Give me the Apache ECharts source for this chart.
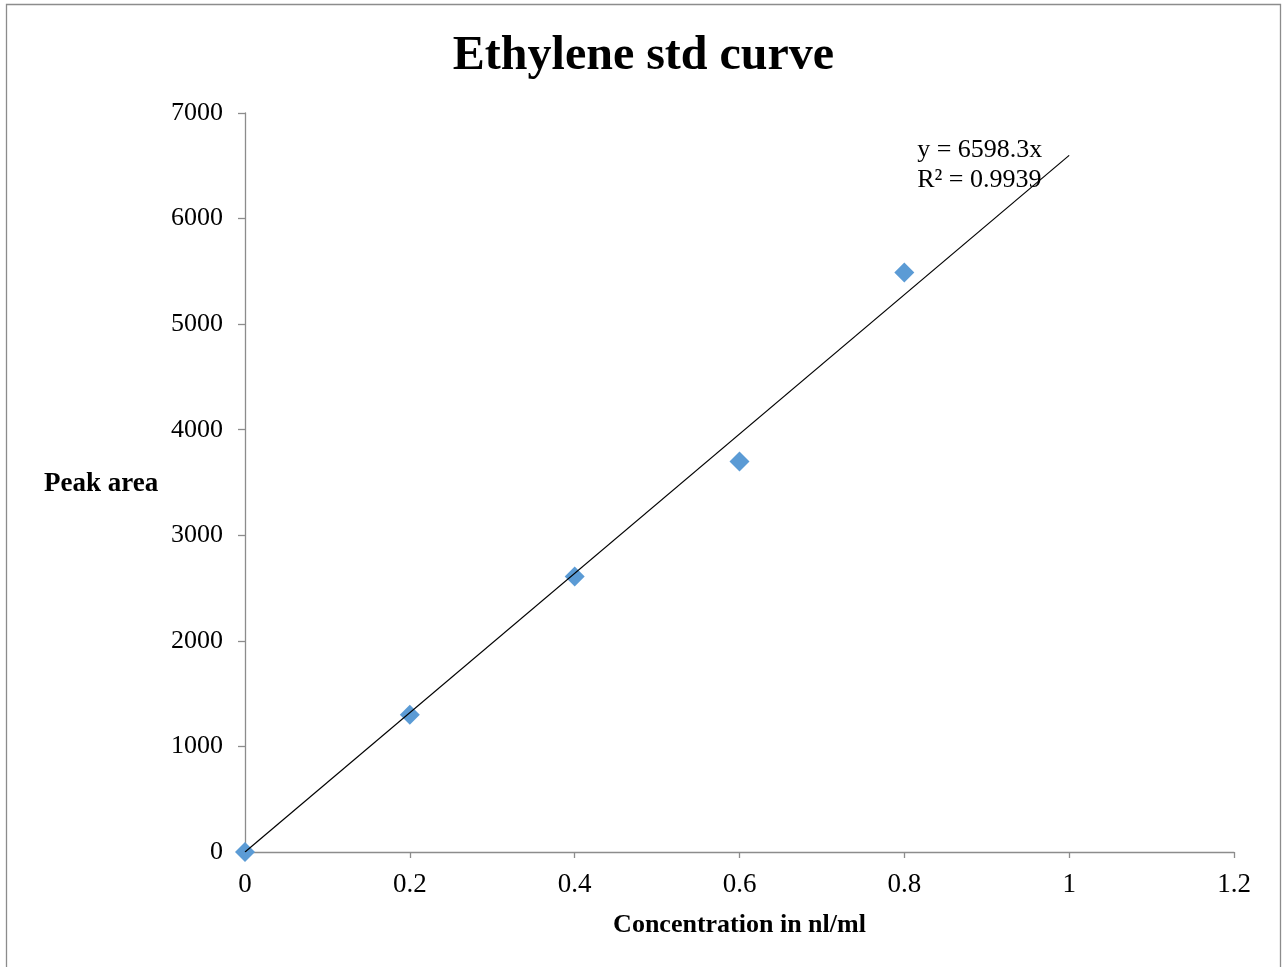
<!DOCTYPE html>
<html>
<head>
<meta charset="utf-8">
<script src="https://cdn.jsdelivr.net/npm/echarts@6/dist/echarts.min.js"></script>
<style>
  html, body { margin: 0; padding: 0; background: #ffffff; }
  #chart { width: 1287px; height: 967px; }
</style>
</head>
<body>
<div id="chart"></div>
<script>
// Standard curve measurements
const concentration = [0, 0.2, 0.4, 0.6, 0.8];
const peakArea = [0, 1300, 2610, 3700, 5490];

// Linear fit through the origin
const slope = 6598.3;
const rSquared = 0.9939;
const fitRange = [0, 1];

const xTicks = { min: 0, max: 1.2, interval: 0.2 };
const yTicks = { min: 0, max: 7000, interval: 1000 };

const font = '"Liberation Serif", "Times New Roman", serif';

const chart = echarts.init(document.getElementById('chart'));

chart.setOption({
  backgroundColor: '#ffffff',
  animation: false,
  title: {
    text: 'Ethylene std curve',
    left: 'center',
    top: 28,
    textStyle: { fontFamily: font, fontSize: 48, fontWeight: 'bold', color: '#000' }
  },
  grid: { left: 245, right: 53, top: 113, bottom: 115, containLabel: false },
  xAxis: {
    type: 'value',
    min: xTicks.min, max: xTicks.max, interval: xTicks.interval,
    name: 'Concentration in nl/ml',
    nameLocation: 'middle',
    nameGap: 60,
    nameTextStyle: { fontFamily: font, fontSize: 26, fontWeight: 'bold', color: '#000' },
    axisLine: { show: true, lineStyle: { color: '#8c8c8c', width: 1.3 } },
    axisTick: { show: true, inside: false, length: 6, lineStyle: { color: '#8c8c8c', width: 1.3 } },
    axisLabel: { fontFamily: font, fontSize: 27, color: '#000', margin: 19,
      formatter: v => String(Math.round(v * 10) / 10) },
    splitLine: { show: false }
  },
  yAxis: {
    type: 'value',
    min: yTicks.min, max: yTicks.max, interval: yTicks.interval,
    axisLine: { show: true, lineStyle: { color: '#8c8c8c', width: 1.3 } },
    axisTick: { show: true, inside: false, length: 7, lineStyle: { color: '#8c8c8c', width: 1.3 } },
    axisLabel: { fontFamily: font, fontSize: 26, color: '#000', margin: 22,
      formatter: v => String(v) },
    splitLine: { show: false }
  },
  graphic: [
    {
      type: 'rect',
      shape: { x: 6.5, y: 4.5, width: 1274, height: 1000 },
      style: { fill: 'none', stroke: '#8c8c8c', lineWidth: 1.3 },
      silent: true, z: -10
    },
    {
      type: 'text',
      left: 44, top: 471,
      style: { text: 'Peak area', font: 'bold 27px ' + font, fill: '#000' }
    }
  ],
  series: [
    {
      type: 'line',
      data: fitRange.map(x => [x, slope * x]),
      showSymbol: false,
      symbol: 'none',
      lineStyle: { color: '#000', width: 1.2 },
      z: 3,
      endLabel: {
        show: true,
        formatter: () => 'y = ' + slope + 'x\nR² = ' + rSquared,
        fontFamily: font, fontSize: 26, color: '#000',
        align: 'left', lineHeight: 30,
        offset: [-160, 10]
      }
    },
    {
      type: 'scatter',
      data: concentration.map((c, i) => [c, peakArea[i]]),
      symbol: 'diamond',
      symbolSize: 20,
      itemStyle: { color: '#5b9bd5', opacity: 1 },
      z: 2
    }
  ]
});
</script>
</body>
</html>
